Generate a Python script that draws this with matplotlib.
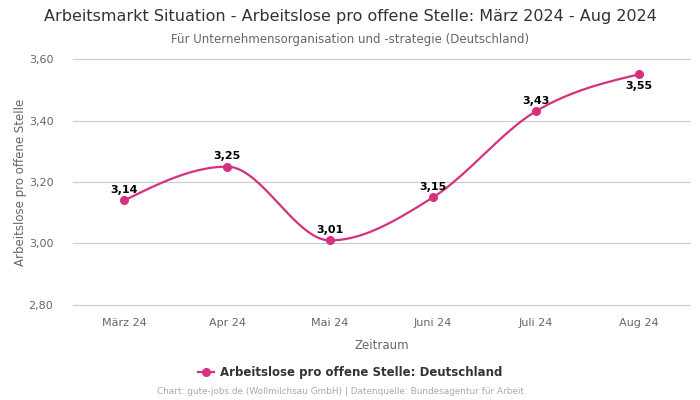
""" Arbeitslose pro offene Stelle - line chart """

import numpy as np
from matplotlib import pyplot as plt
from matplotlib.lines import Line2D

MONTHS = ["März 24", "Apr 24", "Mai 24", "Juni 24", "Juli 24", "Aug 24"]
VALUES = [3.14, 3.25, 3.01, 3.15, 3.43, 3.55]
Y_TICKS = [2.80, 3.00, 3.20, 3.40, 3.60]

COLOR = "#d6307f"


def monotone_curve(xs, ys, steps=40):
    """ monotone cubic (d3 monotoneX style) through the points """
    xs = np.asarray(xs, dtype=float)
    ys = np.asarray(ys, dtype=float)
    n = len(xs)
    h = np.diff(xs)
    s = np.diff(ys) / h
    t = np.zeros(n)
    for i in range(1, n - 1):
        if s[i - 1] * s[i] <= 0:
            t[i] = 0.0
        else:
            p = (s[i - 1] * h[i] + s[i] * h[i - 1]) / (h[i - 1] + h[i])
            t[i] = (np.sign(s[i - 1]) + np.sign(s[i])) * min(
                abs(s[i - 1]), abs(s[i]), 0.5 * abs(p))
    t[0] = (3 * s[0] - t[1]) / 2 if n > 2 else s[0]
    t[-1] = (3 * s[-1] - t[-2]) / 2 if n > 2 else s[-1]
    out_x, out_y = [], []
    for i in range(n - 1):
        u = np.linspace(0, 1, steps)
        h00 = 2 * u**3 - 3 * u**2 + 1
        h10 = u**3 - 2 * u**2 + u
        h01 = -2 * u**3 + 3 * u**2
        h11 = u**3 - u**2
        out_x.extend(xs[i] + u * h[i])
        out_y.extend(h00 * ys[i] + h10 * h[i] * t[i] + h01 * ys[i + 1] + h11 * h[i] * t[i + 1])
    return np.array(out_x), np.array(out_y)


def fmt(v):
    """ german decimal """
    return "{:.2f}".format(v).replace(".", ",")


def main():
    """ main """
    fig = plt.figure(figsize=(7, 4), dpi=100)
    ax = fig.add_axes([0.104, 0.2375, 0.882, 0.615])

    pos = np.arange(len(MONTHS))
    cx, cy = monotone_curve(pos, VALUES)
    ax.plot(cx, cy, color=COLOR, linewidth=1.6, zorder=3)
    ax.plot(pos, VALUES, "o", color=COLOR, markersize=5.5, zorder=4)

    for i, v in enumerate(VALUES):
        if i == len(VALUES) - 1:
            ax.annotate(fmt(v), (i, v), xytext=(0, -5), textcoords="offset points",
                        ha="center", va="top", fontsize=8, fontweight="bold", color="black")
        else:
            ax.annotate(fmt(v), (i, v), xytext=(0, 4), textcoords="offset points",
                        ha="center", va="bottom", fontsize=8, fontweight="bold", color="black")

    ax.set_xlim(-0.5, len(MONTHS) - 0.5)
    ax.set_ylim(Y_TICKS[0], Y_TICKS[-1])
    ax.set_xticks(pos)
    ax.set_xticklabels(MONTHS)
    ax.set_yticks(Y_TICKS)
    ax.set_yticklabels([fmt(v) for v in Y_TICKS])
    ax.tick_params(axis="both", length=0, labelsize=8, colors="#666666")
    ax.tick_params(axis="x", pad=9)
    ax.tick_params(axis="y", pad=14)
    ax.grid(axis="y", color="#cccccc", linewidth=0.8)
    for gl in ax.get_ygridlines():
        gl.set_clip_on(False)
    ax.set_axisbelow(True)
    for sp in ax.spines.values():
        sp.set_visible(False)

    ax.set_xlabel("Zeitraum", fontsize=8.5, color="#666666", labelpad=8)
    ax.set_ylabel("Arbeitslose pro offene Stelle", fontsize=8.5, color="#666666", labelpad=1)

    fig.text(0.5, 0.958, "Arbeitsmarkt Situation - Arbeitslose pro offene Stelle: März 2024 - Aug 2024",
             ha="center", va="center", fontsize=11.5, color="#333333")
    fig.text(0.5, 0.902, "Für Unternehmensorganisation und -strategie (Deutschland)",
             ha="center", va="center", fontsize=8.5, color="#666666")

    handle = Line2D([0], [0], color=COLOR, marker="o", markersize=5.5, linewidth=1.6)
    leg = fig.legend([handle], ["Arbeitslose pro offene Stelle: Deutschland"],
                     loc="center", bbox_to_anchor=(0.5, 0.068), frameon=False,
                     handlelength=1.4, handletextpad=0.5,
                     prop={"size": 8.5, "weight": "bold"})
    for txt in leg.get_texts():
        txt.set_color("#333333")

    fig.text(0.486, 0.02, "Chart: gute-jobs.de (Wollmilchsau GmbH) | Datenquelle: Bundesagentur für Arbeit",
             ha="center", va="center", fontsize=6.4, color="#aaaaaa")

    fig.savefig("out.png", dpi=100)


main()
